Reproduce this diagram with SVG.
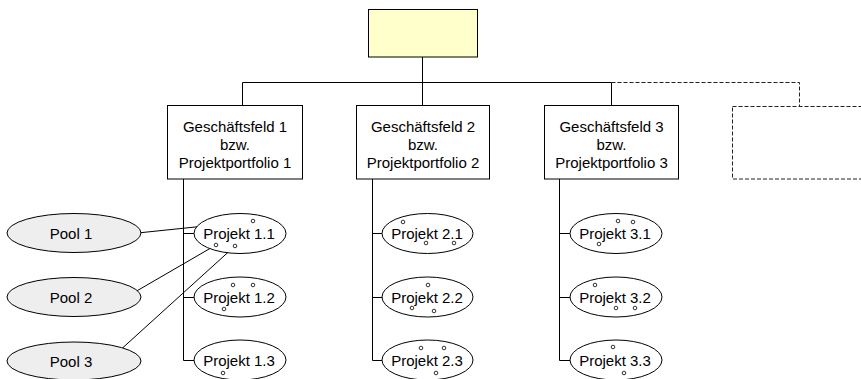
<svg xmlns="http://www.w3.org/2000/svg" width="861" height="379" viewBox="0 0 861 379">
  <style>
    .box { fill: #ffffff; stroke: #000000; stroke-width: 1; }
    .top { fill: #ffffcc; stroke: #000000; stroke-width: 1; }
    .ghost { fill: none; stroke: #222222; stroke-width: 1; stroke-dasharray: 4 2; }
    .proj { fill: #ffffff; stroke: #000000; stroke-width: 1; }
    .pool { fill: #eeeeee; stroke: #000000; stroke-width: 1; }
    .dot { fill: #ffffff; stroke: #000000; stroke-width: 0.8; }
    .wire { fill: none; stroke: #000000; stroke-width: 1; }
    .dash { fill: none; stroke: #222222; stroke-width: 1; stroke-dasharray: 4 2; }
    text { font-family: "Liberation Sans", Arial, sans-serif; fill: #000000; text-anchor: middle; }
    .t13 { font-size: 15px; }
    .t14 { font-size: 15px; }
  </style>

  <!-- connectors -->
  <g id="connectors">
    <path class="wire" d="M422.5 57 V82.5 M242.5 82.5 H611.5 M242.5 82.5 V105 M422.5 82.5 V105 M611.5 82.5 V105"/>
    <path class="dash" d="M611.5 82.5 H799.5 V106"/>
    <path class="wire" d="M183.5 179 V360.5 M183.5 233.5 H194 M183.5 297.5 H194 M183.5 360.5 H194"/>
    <path class="wire" d="M372.5 179 V360.5 M372.5 233.5 H382 M372.5 297.5 H382 M372.5 360.5 H382"/>
    <path class="wire" d="M559.5 179 V360.5 M559.5 233.5 H570 M559.5 297.5 H570 M559.5 360.5 H570"/>
    <path class="wire" d="M128 234 L253 221 M128 296 L216 245 M117 353 L235 246"/>
  </g>

  <g id="root">
    <rect class="top" x="368.5" y="9.5" width="109" height="47.5"/>
  </g>

  <g id="field1">
    <rect class="box" x="167.5" y="105.5" width="135" height="73.5"/>
    <text class="t13" x="235" y="132">Geschäftsfeld 1</text>
    <text class="t13" x="235" y="150">bzw.</text>
    <text class="t13" x="235" y="168">Projektportfolio 1</text>
  </g>
  <g id="field2">
    <rect class="box" x="356.5" y="105.5" width="133" height="73.5"/>
    <text class="t13" x="423" y="132">Geschäftsfeld 2</text>
    <text class="t13" x="423" y="150">bzw.</text>
    <text class="t13" x="423" y="168">Projektportfolio 2</text>
  </g>
  <g id="field3">
    <rect class="box" x="544.5" y="105.5" width="134" height="73.5"/>
    <text class="t13" x="611.5" y="132">Geschäftsfeld 3</text>
    <text class="t13" x="611.5" y="150">bzw.</text>
    <text class="t13" x="611.5" y="168">Projektportfolio 3</text>
  </g>
  <g id="field4">
    <rect class="ghost" x="732.5" y="106.5" width="140" height="72.5"/>
  </g>

  <!-- pools -->
  <g id="pool1">
    <ellipse class="pool" cx="74" cy="233" rx="67" ry="19.5"/>
    <text class="t14" x="71" y="238.5">Pool 1</text>
  </g>
  <g id="pool2">
    <ellipse class="pool" cx="74" cy="297" rx="67" ry="19.5"/>
    <text class="t14" x="71" y="302.5">Pool 2</text>
  </g>
  <g id="pool3">
    <ellipse class="pool" cx="74" cy="361" rx="67" ry="19"/>
    <text class="t14" x="71" y="366.5">Pool 3</text>
  </g>

  <!-- projects, portfolio 1 -->
  <g id="p11">
    <ellipse class="proj" cx="240" cy="233.5" rx="46" ry="20"/>
    <text class="t14" x="239" y="239">Projekt 1.1</text>
    <circle class="dot" cx="253" cy="221" r="1.8"/>
    <circle class="dot" cx="216" cy="245" r="1.8"/>
    <circle class="dot" cx="235" cy="246" r="1.8"/>
  </g>
  <g id="p12">
    <ellipse class="proj" cx="240" cy="297" rx="46" ry="20"/>
    <text class="t14" x="239" y="302.5">Projekt 1.2</text>
    <circle class="dot" cx="233" cy="285" r="1.8"/>
    <circle class="dot" cx="253" cy="285" r="1.8"/>
    <circle class="dot" cx="224" cy="309" r="1.8"/>
  </g>
  <g id="p13">
    <ellipse class="proj" cx="240" cy="360" rx="46" ry="20"/>
    <text class="t14" x="239" y="365.5">Projekt 1.3</text>
    <circle class="dot" cx="223" cy="373" r="1.8"/>
  </g>

  <!-- projects, portfolio 2 -->
  <g id="p21">
    <ellipse class="proj" cx="427.5" cy="233.5" rx="45.5" ry="20"/>
    <text class="t14" x="427" y="239">Projekt 2.1</text>
    <circle class="dot" cx="403" cy="222" r="1.8"/>
    <circle class="dot" cx="426" cy="243" r="1.8"/>
    <circle class="dot" cx="454" cy="243" r="1.8"/>
  </g>
  <g id="p22">
    <ellipse class="proj" cx="427.5" cy="297" rx="45.5" ry="20"/>
    <text class="t14" x="427" y="302.5">Projekt 2.2</text>
    <circle class="dot" cx="428" cy="285" r="1.8"/>
    <circle class="dot" cx="412" cy="308" r="1.8"/>
    <circle class="dot" cx="434" cy="311" r="1.8"/>
  </g>
  <g id="p23">
    <ellipse class="proj" cx="427.5" cy="360" rx="45.5" ry="20"/>
    <text class="t14" x="427" y="365.5">Projekt 2.3</text>
    <circle class="dot" cx="421" cy="348" r="1.8"/>
    <circle class="dot" cx="444" cy="348" r="1.8"/>
    <circle class="dot" cx="436" cy="373" r="1.8"/>
  </g>

  <!-- projects, portfolio 3 -->
  <g id="p31">
    <ellipse class="proj" cx="616" cy="233.5" rx="46" ry="20"/>
    <text class="t14" x="615" y="239">Projekt 3.1</text>
    <circle class="dot" cx="618" cy="221" r="1.8"/>
    <circle class="dot" cx="633" cy="222" r="1.8"/>
    <circle class="dot" cx="599" cy="244" r="1.8"/>
  </g>
  <g id="p32">
    <ellipse class="proj" cx="616" cy="297" rx="46" ry="20"/>
    <text class="t14" x="615" y="302.5">Projekt 3.2</text>
    <circle class="dot" cx="595" cy="285" r="1.8"/>
    <circle class="dot" cx="616" cy="308" r="1.8"/>
    <circle class="dot" cx="635" cy="308" r="1.8"/>
  </g>
  <g id="p33">
    <ellipse class="proj" cx="616" cy="360" rx="46" ry="20"/>
    <text class="t14" x="615" y="365.5">Projekt 3.3</text>
    <circle class="dot" cx="613" cy="347" r="1.8"/>
    <circle class="dot" cx="624" cy="373" r="1.8"/>
  </g>
</svg>
